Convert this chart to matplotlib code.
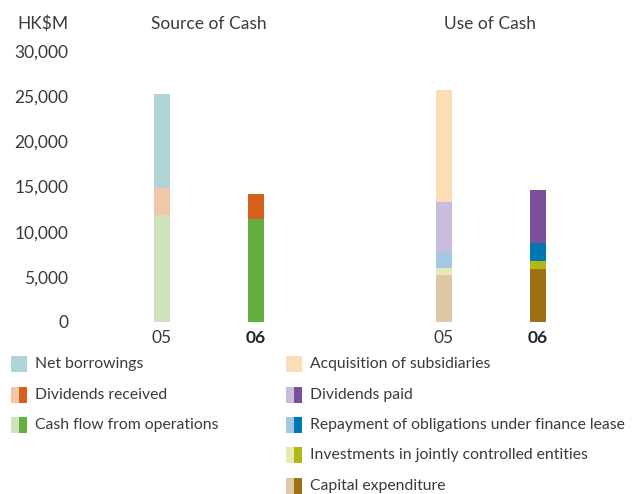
import numpy as np
import matplotlib
matplotlib.use('Agg')
import matplotlib.pyplot as plt
from matplotlib.patches import Rectangle
from matplotlib.ticker import FuncFormatter

plt.rcParams['font.family'] = ['Lato', 'DejaVu Sans']

years = ['05', '06']

# source of cash, stacked bottom -> top
source_names = ['Cash flow from operations', 'Dividends received', 'Net borrowings']
source_05 = [11850, 3000, 10400]
source_06 = [11400, 2800, 0]
source_light = ['#cfe2bd', '#f2c6a8', '#aed4d5']
source_dark = ['#66ae3c', '#d4601a', None]

# use of cash, stacked bottom -> top
use_names = ['Capital expenditure', 'Investments in jointly controlled entities',
             'Repayment of obligations under finance lease', 'Dividends paid',
             'Acquisition of subsidiaries']
use_05 = [5200, 800, 1800, 5500, 12400]
use_06 = [5850, 900, 2000, 5850, 0]
use_light = ['#dfc8a6', '#e6e8b5', '#a4c8e2', '#c9bcdc', '#fdddb5']
use_dark = ['#9f6f14', '#b1b816', '#0077b5', '#7a4f9b', None]

txt = '#3a3a3a'
W, H = 633, 494
fig = plt.figure(figsize=(W / 100, H / 100), dpi=100)

# plot area: x units of 94 px, 0 -> px 162 ; y 0 -> px 322, 30000 -> px 51
left_px, right_px = 80, 620
ax = fig.add_axes([left_px / W, (H - 322) / H, (right_px - left_px) / W, 271 / H])
ax.set_xlim((left_px - 162) / 94, (right_px - 162) / 94)
ax.set_ylim(0, 30000)

bw = 0.17
pos = [0, 1, 3, 4]

def stack(x, vals, cols):
    b = 0
    for v, c in zip(vals, cols):
        if v > 0:
            ax.bar(x, v, bw, bottom=b, color=c, linewidth=0)
        b += v

stack(pos[0], source_05, source_light)
stack(pos[1], source_06, source_dark)
stack(pos[2], use_05, use_light)
stack(pos[3], use_06, use_dark)

for s in ax.spines.values():
    s.set_visible(False)
ax.set_yticks(np.arange(0, 30001, 5000))
ax.yaxis.set_major_formatter(FuncFormatter(lambda v, p: f'{int(v):,}'))
ax.tick_params(axis='y', length=0, pad=8.5, labelsize=12.5, labelcolor=txt)
ax.set_xticks(pos)
ax.set_xticklabels(years + years)
ax.tick_params(axis='x', length=0, pad=6, labelsize=12.5, labelcolor=txt)
for i, lab in enumerate(ax.get_xticklabels()):
    if i % 2 == 1:
        lab.set_fontweight('bold')
        lab.set_color('#222222')

fig.text(17 / W, 1 - 24 / H, 'HK$M', fontsize=12.5, color=txt, ha='left', va='center')
fig.text(209 / W, 1 - 24 / H, 'Source of Cash', fontsize=12.5, color=txt, ha='center', va='center')
fig.text(490 / W, 1 - 24 / H, 'Use of Cash', fontsize=12.5, color=txt, ha='center', va='center')

# legend drawn in pixel space
lg = fig.add_axes([0, 0, 1, 1])
lg.set_xlim(0, W)
lg.set_ylim(H, 0)
lg.axis('off')

def entry(x, y, name, light, dark):
    if dark is None:
        lg.add_patch(Rectangle((x, y - 8), 16, 16, color=light, lw=0))
    else:
        lg.add_patch(Rectangle((x, y - 8), 8, 16, color=light, lw=0))
        lg.add_patch(Rectangle((x + 8, y - 8), 8, 16, color=dark, lw=0))
    lg.text(x + 24, y, name, fontsize=11.3, color=txt, ha='left', va='center')

row_y = [364, 395, 425, 455, 486]
for i, k in enumerate(range(len(source_names) - 1, -1, -1)):
    entry(11, row_y[i], source_names[k], source_light[k], source_dark[k])
for i, k in enumerate(range(len(use_names) - 1, -1, -1)):
    entry(286, row_y[i], use_names[k], use_light[k], use_dark[k])

fig.savefig('out.png', dpi=100)
